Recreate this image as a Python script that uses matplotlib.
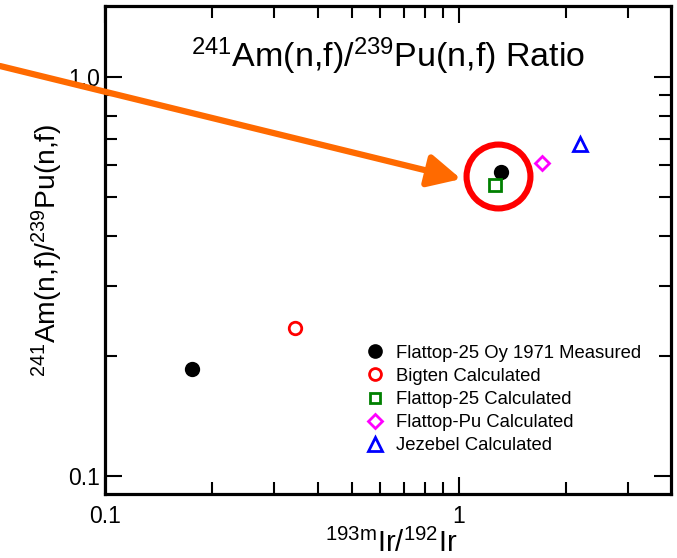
import matplotlib
matplotlib.use('Agg')
import matplotlib.pyplot as plt
from matplotlib.transforms import offset_copy
from matplotlib.ticker import FixedLocator, FixedFormatter, LogLocator, NullFormatter

plt.rcParams['font.family'] = ['Liberation Sans', 'DejaVu Sans']
plt.rcParams['mathtext.fontset'] = 'custom'
plt.rcParams['mathtext.rm'] = 'Liberation Sans'
plt.rcParams['mathtext.default'] = 'regular'

# data
labels = ['Flattop-25 Oy 1971 Measured', 'Bigten Calculated', 'Flattop-25 Calculated',
          'Flattop-Pu Calculated', 'Jezebel Calculated']
ir_ratio = [[0.176, 1.31], [0.344], [1.26], [1.71], [2.20]]
am_pu_ratio = [[0.185, 0.578], [0.235], [0.536], [0.608], [0.679]]
markers = ['o', 'o', 's', 'D', '^']
colors = ['black', 'red', 'green', 'magenta', 'blue']
filled = [True, False, False, False, False]
sizes = [9, 9, 8, 7.5, 10]

xticks = [0.1, 1]
xticklabels = ['0.1', '1']
yticks = [0.1, 1.0]
yticklabels = ['0.1', '1.0']

fig = plt.figure(figsize=(6.77, 5.58), dpi=100)
ax = fig.add_axes([105 / 677, 64 / 558, 566 / 677, 488 / 558])

for xs, ys, lab, m, c, f, s in zip(ir_ratio, am_pu_ratio, labels, markers, colors, filled, sizes):
    ax.plot(xs, ys, linestyle='none', marker=m, markersize=s,
            markerfacecolor=c if f else 'none', markeredgecolor=c,
            markeredgewidth=2, label=lab)

ax.set_xscale('log')
ax.set_yscale('log')
ax.set_xlim(0.1, 3.97)
ax.set_ylim(0.0901, 1.506)

ax.xaxis.set_major_locator(FixedLocator(xticks))
ax.xaxis.set_major_formatter(FixedFormatter(xticklabels))
ax.yaxis.set_major_locator(FixedLocator(yticks))
ax.yaxis.set_major_formatter(FixedFormatter(yticklabels))
ax.xaxis.set_minor_locator(LogLocator(base=10, subs=range(2, 10)))
ax.yaxis.set_minor_locator(LogLocator(base=10, subs=range(2, 10)))
ax.xaxis.set_minor_formatter(NullFormatter())
ax.yaxis.set_minor_formatter(NullFormatter())

ax.tick_params(which='both', direction='in', top=True, right=True, width=1.5, labelsize=16.5)
ax.tick_params(which='major', length=12)
ax.tick_params(which='minor', length=8.5)
ax.tick_params(axis='x', pad=8)
for sp in ax.spines.values():
    sp.set_linewidth(2.3)

ax.text(0.5, 0.875, r'$^{241}$Am(n,f)/$^{239}$Pu(n,f) Ratio', transform=ax.transAxes,
        ha='center', va='baseline', fontsize=24.5)
ax.set_ylabel(r'$^{241}$Am(n,f)/$^{239}$Pu(n,f)', fontsize=20.3, labelpad=2)
fig.text(391 / 677, 0.0, r'$^{193m}$Ir/$^{192}$Ir', ha='center', va='bottom', fontsize=21)

ax.legend(loc='lower left', bbox_to_anchor=(0.435, 0.055), frameon=False, fontsize=13.3,
          handletextpad=0.55, labelspacing=0.33, handlelength=1.2, markerscale=0.95,
          borderpad=0.2)

# red highlight circle around the measured point near 1.3 (drawn a touch off-centre, as in the original)
ring = offset_copy(ax.transData, fig=fig, x=-3, y=-4, units='dots')
ax.plot([ir_ratio[0][1]], [am_pu_ratio[0][1]], linestyle='none', marker='o',
        markersize=46, markerfacecolor='none', markeredgecolor='#ff0000',
        markeredgewidth=4.4, zorder=5, transform=ring)

# orange arrow coming from the left edge, aimed at the circle's left side
aim = offset_copy(ax.transData, fig=fig, x=-3, y=-16, units='dots')
ax.annotate('', xy=(ir_ratio[0][1], am_pu_ratio[0][1]), xycoords=aim,
            xytext=(0, 492), textcoords='figure pixels',
            arrowprops=dict(arrowstyle='-|>,head_length=0.9,head_width=0.45',
                            lw=4.5, color='#ff6a00', shrinkA=0, shrinkB=27,
                            mutation_scale=22),
            annotation_clip=False, zorder=6)

fig.savefig('out.png', dpi=100)
